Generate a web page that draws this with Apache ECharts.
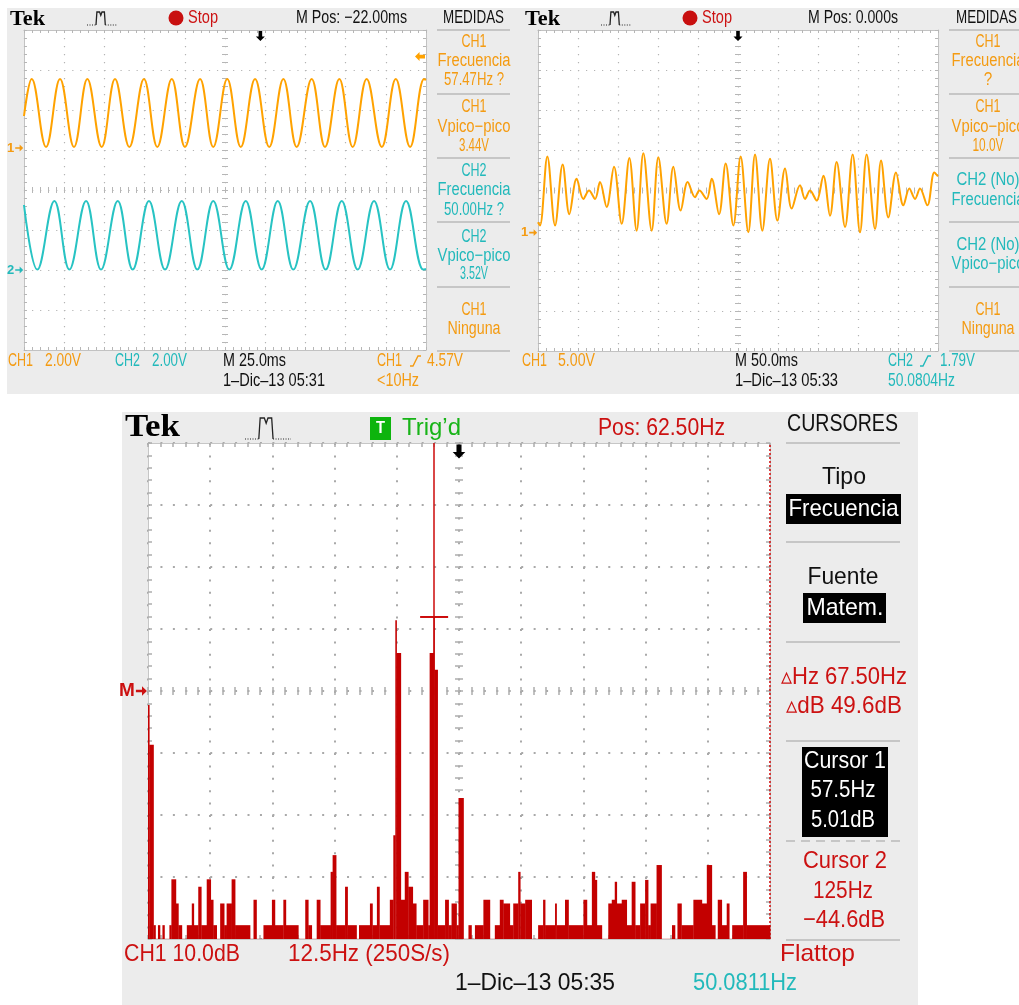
<!DOCTYPE html>
<html>
<head>
<meta charset="utf-8">
<script src="https://cdn.jsdelivr.net/npm/echarts@6/dist/echarts.min.js"></script>
<style>
  html, body { margin: 0; padding: 0; background: #ffffff; }
  #chart { width: 1019px; height: 1005px; }
</style>
</head>
<body>
<div id="chart"></div>
<script>
// ---------------------------------------------------------------
// Screen A: CH1 / CH2 sine captures (25 ms/div), [time ms, volts]
// ---------------------------------------------------------------
const scopeA_ch1 = [
  [0, 1.6], [4.8, 3.45], [13.7, 0.05], [22.4, 3.45], [31.1, 0.05], [39.4, 3.45], [48.3, 0.05],
  [56.6, 3.45], [65.5, 0.05], [74.6, 3.45], [82.9, 0.05], [91.9, 3.45], [100.1, 0.05],
  [109.5, 3.45], [117.7, 0.05], [126.4, 3.45], [134.8, 0.05], [143.7, 3.45], [152.5, 0.05],
  [161.3, 3.45], [169.6, 0.05], [178.9, 3.45], [187.2, 0.05], [196.1, 3.45], [204.4, 0.05],
  [213.1, 3.45], [222.5, 0.05], [231.2, 3.45], [240.1, 0.05], [248.8, 3.45], [250, 3.4]
];
const scopeA_ch2 = [
  [0, 3.25], [8.3, 0.02], [18.9, 3.45], [28.2, 0.02], [38.6, 3.45], [47.9, 0.02], [58.3, 3.45],
  [67.6, 0.02], [77.7, 3.45], [87.7, 0.02], [98.1, 3.45], [107.8, 0.02], [117.7, 3.45],
  [127.7, 0.02], [137.9, 3.45], [147.8, 0.02], [157.8, 3.45], [167.5, 0.02], [177.9, 3.45],
  [187.6, 0.02], [197.6, 3.45], [207.5, 0.02], [217.7, 3.45], [227.6, 0.02], [237.6, 3.45],
  [248.3, 0.02], [250, 0.05]
];

// ---------------------------------------------------------------
// Screen B: CH1 beating signal (50 ms/div), [time ms, volts]
// ---------------------------------------------------------------
const scopeB_ch1 = [
  [0, 1.3], [2.5, 0.9], [11.7, 9.5], [21.3, 0.9], [30.8, 8.5], [39.2, 2.3], [48.3, 6.7],
  [56.7, 4.2], [63.8, 5.25], [71.3, 4.2], [77.5, 6.3], [85.8, 3.2], [95, 8.2], [104.6, 1.1],
  [114.2, 9.3], [123.3, 0.25], [131.7, 9.9], [142.1, 0.25], [150.4, 9.4], [160.8, 1.1],
  [169.2, 8.2], [178.3, 2.75], [187.1, 6.3], [196.3, 4.4], [201.7, 5.25], [210.8, 4.2],
  [217.1, 6.7], [226.3, 2.3], [234.6, 8.6], [244.2, 0.9], [253.3, 9.5], [262.9, 0.05],
  [271.3, 9.75], [280.4, 0.25], [290, 9.2], [299.2, 1.5], [308.8, 8.0], [317.1, 3.0],
  [327.5, 5.9], [333.8, 4.2], [340, 5.25], [348.3, 4.0], [356.7, 7.1], [365, 2.1],
  [373.3, 8.8], [383.8, 0.7], [393.3, 9.75], [402.5, 0.05], [410.8, 9.75], [421.3, 0.45],
  [428.8, 9.0], [437.9, 1.9], [447.5, 7.5], [456.7, 3.4], [464.2, 5.5], [471.3, 4.2],
  [477.5, 5.5], [486.7, 3.4], [495.4, 7.5], [500, 7.0]
];

// ---------------------------------------------------------------
// Screen C: FFT of CH1 (Flattop, 12.5 Hz/div, 10 dB/div), [Hz, dB]
// each level holds until the next frequency
// ---------------------------------------------------------------
const fftSpectrum = [
  [0, -9.2], [0.25, -15.6], [1.1, -44.7], [1.5, -46.9], [2.0, -44.7], [2.4, -46.9], [2.9, -44.7],
  [3.3, -46.9], [4.3, -44.7], [4.7, -37.3], [5.6, -41.2], [6.1, -44.7], [6.8, -46.9], [7.8, -44.7],
  [8.8, -41.2], [9.2, -44.7], [10.1, -38.5], [10.7, -44.7], [11.8, -37.3], [12.6, -40.6],
  [13.1, -44.7], [13.8, -46.9], [14.5, -41.2], [15.3, -44.7], [15.8, -41.2], [16.8, -37.3],
  [17.5, -44.7], [20.5, -46.9], [21.2, -40.6], [21.8, -46.9], [23.2, -44.7], [24.9, -40.6],
  [25.5, -44.7], [27.2, -40.6], [27.7, -44.7], [30.2, -46.9], [31.6, -40.6], [32.2, -44.7],
  [32.9, -46.9], [33.9, -40.6], [34.6, -44.7], [36.7, -36.1], [37.1, -33.4], [37.8, -44.7],
  [39.6, -38.5], [40.1, -44.7], [41.9, -46.9], [42.4, -44.7], [44.6, -41.2], [45.1, -44.7],
  [46.0, -38.5], [46.5, -44.7], [48.6, -40.6], [49.3, -30.2], [49.7, 4.5], [49.95, -0.8],
  [50.8, -40.6], [51.6, -36.1], [52.3, -38.5], [53.2, -41.2], [53.9, -44.7], [55.3, -40.6],
  [56.3, -44.7], [56.6, -0.8], [57.4, 5.01], [57.55, -3.5], [58.2, -44.7], [59.7, -40.6],
  [60.4, -44.7], [61.0, -41.2], [62.0, -44.7], [62.4, -24.2], [63.4, -46.9], [64.4, -44.7],
  [65.0, -46.9], [65.7, -44.7], [67.4, -40.6], [68.7, -46.9], [69.7, -44.7], [70.7, -40.6],
  [71.4, -41.2], [72.7, -44.7], [73.4, -41.2], [74.4, -36.1], [74.8, -41.2], [75.8, -40.6],
  [77.1, -46.9], [78.4, -44.7], [79.4, -40.6], [79.8, -44.7], [81.8, -41.2], [82.1, -44.7],
  [83.8, -40.6], [84.5, -44.7], [87.5, -40.6], [88.2, -44.7], [89.2, -36.1], [89.8, -37.4],
  [90.2, -44.7], [91.2, -46.9], [92.5, -41.2], [93.2, -40.6], [93.8, -37.7], [94.2, -41.2],
  [95.2, -40.6], [96.2, -44.7], [97.2, -37.7], [97.9, -44.7], [98.9, -41.2], [99.9, -37.4],
  [100.5, -44.7], [101.0, -41.2], [102.2, -35.0], [103.2, -46.9], [105.3, -44.7], [105.9, -46.9],
  [106.4, -41.2], [107.2, -44.7], [109.6, -40.6], [111.3, -41.2], [112.3, -35.0], [113.3, -44.7],
  [114.0, -46.9], [114.5, -40.6], [115.3, -44.7], [116.3, -41.2], [116.8, -46.9], [117.4, -44.7],
  [119.6, -36.1], [120.3, -44.7], [125, -44.7]
];

// Cursor readouts of screen C
const cursor1 = { hz: 57.5, db: 5.01 };
const cursor2 = { hz: 125, db: -44.6 };

// Trigger settings
const trigA = { posMs: 147, levelV: 4.57 };   // 22 ms right of centre
const trigB = { posMs: 250 };
const fftCentreHz = 62.5;

// Vertical ranges (volts / dB) of the three screens
const rangeA1 = [-10.1, 5.9], rangeA2 = [-4, 12], rangeB1 = [-14.75, 25.25], rangeC = [-46.93, 33.07];

// ---------------------------------------------------------------
const SANS = "'Liberation Sans', Arial, Helvetica, sans-serif";
const SERIF = "'Liberation Serif', 'Times New Roman', serif";
const ORANGE = '#ffa200', ORANGE_TXT = '#f49b12';
const CYAN = '#27c3c3', CYAN_TXT = '#22b9bb';
const RED = '#c30000', RED_TXT = '#cc1111';
const GREEN = '#18b418';
const PANEL = '#ececec', SEP = '#c6c6c6';

const gridA = { left: 24, top: 30, width: 402, height: 320 };
const gridB = { left: 538, top: 30, width: 400, height: 321 };
const gridC = { left: 148, top: 443, width: 622, height: 496 };

const xAxes = [], yAxes = [];

// graticule: border with fine ticks, dotted division lines, ticked centre cross
function graticule(gi, g, st) {
  const dotY = g.height / 8 / 5, dotX = g.width / 10 / 5;
  const tick = { color: st.tick, width: st.tickW };
  const common = { type: 'value', gridIndex: gi, silent: true, axisLabel: { show: false }, splitLine: { show: false } };
  const border = (pos, extra) => Object.assign({}, common, {
    position: pos,
    axisLine: { show: true, onZero: false, lineStyle: { color: st.border, width: 1 } },
    axisTick: { show: true, inside: true, length: st.tickLen, lineStyle: tick },
    minorTick: { show: true, splitNumber: 5, length: st.tickLen, lineStyle: tick }
  }, extra);
  const centre = (pos, offset, extra) => Object.assign({}, common, {
    position: pos, offset: offset,
    axisLine: { show: false, onZero: false },
    axisTick: { show: true, inside: false, length: st.tickLen * 2, lineStyle: tick },
    minorTick: { show: true, splitNumber: 5, length: st.tickLen * 2, lineStyle: tick }
  }, extra);
  const xr = { min: 0, max: 10, interval: 1 }, yr = { min: 0, max: 8, interval: 1 };
  xAxes.push(border('bottom', Object.assign({}, xr, {
    splitLine: { show: true, lineStyle: { color: st.dot, width: st.dotW, type: [st.dotW, dotY - st.dotW] } } })));
  xAxes.push(border('top', xr));
  xAxes.push(centre('bottom', -(g.height / 2 + st.tickLen), xr));
  yAxes.push(border('left', Object.assign({}, yr, {
    splitLine: { show: true, lineStyle: { color: st.dot, width: st.dotW, type: [st.dotW, dotX - st.dotW] } } })));
  yAxes.push(border('right', yr));
  yAxes.push(centre('left', -(g.width / 2 + st.tickLen), yr));
}
function dataAxis(list, gi, range) {
  list.push({ type: 'value', gridIndex: gi, show: false, min: range[0], max: range[1] });
  return list.length - 1;
}

const smallSt = { border: '#c2c2c2', tick: '#b6b6b6', tickW: 1, tickLen: 3, dot: '#b4b4b4', dotW: 1.2 };
const bigSt = { border: '#c6c6c6', tick: '#adadad', tickW: 1.5, tickLen: 4, dot: '#a9a9a9', dotW: 2 };

graticule(0, gridA, smallSt);
const xA = dataAxis(xAxes, 0, [0, 250]);
const yA1 = dataAxis(yAxes, 0, rangeA1);
const yA2 = dataAxis(yAxes, 0, rangeA2);
graticule(1, gridB, smallSt);
const xB = dataAxis(xAxes, 1, [0, 500]);
const yB1 = dataAxis(yAxes, 1, rangeB1);
graticule(2, gridC, bigSt);
const xC = dataAxis(xAxes, 2, [0, 125]);
const yC = dataAxis(yAxes, 2, rangeC);

// spectrum blocks: [start Hz, dB, end Hz]
const fftBlocks = fftSpectrum.slice(0, -1).map((p, i) => [p[0], p[1], fftSpectrum[i + 1][0]]);

// ---------------------------------------------------------------
// markers
const ARROW_R = 'path://M0,4 L5,4 L5,1 L9,5 L5,9 L5,6 L0,6 Z';
const ARROW_L = 'path://M0,5 L5,0 L5,3 L11,3 L11,7 L5,7 L5,10 Z';
const ARROW_D = 'path://M3,0 L7,0 L7,6 L10,6 L5,11 L0,6 L3,6 Z';
function refMarker(x, y, text, color, size, fs) {
  return {
    coord: [x, y], symbol: ARROW_R, symbolSize: [size, size * 0.85], symbolOffset: [-size * 0.6, 0],
    itemStyle: { color: color },
    label: { show: true, position: 'left', distance: 1, formatter: text, color: color,
             fontSize: fs, fontFamily: SANS, fontWeight: 'bold' }
  };
}
function trigArrow(x, y, size) {
  return { coord: [x, y], symbol: ARROW_D, symbolSize: [size * 0.9, size], symbolOffset: [0, size * 0.6],
           itemStyle: { color: '#000' }, label: { show: false } };
}

const series = [
  {
    type: 'line', xAxisIndex: xA, yAxisIndex: yA1, data: scopeA_ch1, smooth: 0.4, symbol: 'none',
    clip: false, z: 5, lineStyle: { color: ORANGE, width: 2 },
    markPoint: { silent: true, animation: false, label: { show: false }, data: [
      refMarker(0, 0, '1', ORANGE_TXT, 8, 13),
      trigArrow(trigA.posMs, rangeA1[1], 10),
      { coord: [250, trigA.levelV], symbol: ARROW_L, symbolSize: [10, 9], symbolOffset: [-6, 0],
        itemStyle: { color: ORANGE }, label: { show: false } }
    ] }
  },
  {
    type: 'line', xAxisIndex: xA, yAxisIndex: yA2, data: scopeA_ch2, smooth: 0.4, symbol: 'none',
    clip: false, z: 5, lineStyle: { color: CYAN, width: 2 },
    markPoint: { silent: true, animation: false, label: { show: false }, data: [
      refMarker(0, 0, '2', CYAN_TXT, 8, 13)
    ] }
  },
  {
    type: 'line', xAxisIndex: xB, yAxisIndex: yB1, data: scopeB_ch1, smooth: 0.35, symbol: 'none',
    clip: false, z: 5, lineStyle: { color: ORANGE, width: 2 },
    markPoint: { silent: true, animation: false, label: { show: false }, data: [
      refMarker(0, 0, '1', ORANGE_TXT, 8, 13),
      trigArrow(trigB.posMs, rangeB1[1], 10)
    ] }
  },
  {
    // FFT magnitude, drawn as filled blocks from the floor
    type: 'custom', xAxisIndex: xC, yAxisIndex: yC, data: fftBlocks, z: 5, silent: true,
    encode: { x: [0, 2], y: 1 },
    renderItem: function (params, api) {
      const top = api.coord([api.value(0), api.value(1)]);
      const end = api.coord([api.value(2), rangeC[0]]);
      return { type: 'rect',
        shape: { x: top[0], y: top[1], width: Math.max(end[0] - top[0], 0.6) + 0.35, height: end[1] - top[1] },
        style: { fill: RED } };
    }
  },
  {
    // cursor readout points; carries the cursor lines and markers
    type: 'line', xAxisIndex: xC, yAxisIndex: yC, z: 6, symbol: 'none', clip: false,
    data: [[cursor1.hz, cursor1.db], [cursor2.hz, cursor2.db]],
    lineStyle: { opacity: 0 },
    markLine: { silent: true, animation: false, symbol: ['none', 'none'], label: { show: false }, data: [
      { xAxis: cursor1.hz, lineStyle: { color: '#cc0a0a', width: 1.5, type: 'solid' } },
      { xAxis: cursor2.hz, lineStyle: { color: '#d41414', width: 1.6, type: [2, 2] } }
    ] },
    markPoint: { silent: true, animation: false, label: { show: false }, data: [
      { coord: [cursor1.hz, cursor1.db], symbol: 'rect', symbolSize: [28, 2], itemStyle: { color: '#cc0a0a' } },
      trigArrow(fftCentreHz, rangeC[1], 14),
      refMarker(0, (rangeC[0] + rangeC[1]) / 2, 'M', RED_TXT, 11, 19)
    ] }
  }
];

// ---------------------------------------------------------------
// screen annotations
const measureCtx = document.createElement('canvas').getContext('2d');
function T(x, y, text, o) {
  o = o || {};
  const font = (o.weight || 'normal') + ' ' + (o.size || 18) + 'px ' + (o.family || SANS);
  measureCtx.font = font;
  const w0 = measureCtx.measureText(text).width || 1;
  const sx = o.w ? o.w / w0 : (o.sx || 0.85);
  const align = o.align || 'left';
  return { type: 'text', x: x, y: y, scaleX: sx, z: 100, silent: true,
    style: { text: text, fill: o.color || '#111', font: font,
             textAlign: align, align: align, textVerticalAlign: 'middle', verticalAlign: 'middle' } };
}
function rect(x, y, w, h, fill, z) {
  return { type: 'rect', shape: { x: x, y: y, width: w, height: h }, style: { fill: fill }, z: z == null ? 90 : z, silent: true };
}
function hline(x1, x2, y, color, width, dash) {
  return { type: 'line', shape: { x1: x1, y1: y, x2: x2, y2: y }, z: 95, silent: true,
           style: { stroke: color, lineWidth: width, lineDash: dash || null } };
}
function poly(points, color, width, dash) {
  return { type: 'polyline', shape: { points: points }, z: 95, silent: true,
           style: { stroke: color, fill: null, lineWidth: width, lineDash: dash || null } };
}
function pulseIcon(x, y, w, h) {
  const b = y + h;
  return [
    poly([[x, b], [x + 0.3 * w, b]], '#222', 1, [1, 1.5]),
    poly([[x + 0.3 * w, b], [x + 0.33 * w, y], [x + 0.42 * w, y], [x + 0.46 * w, y + 0.25 * h],
          [x + 0.5 * w, y], [x + 0.58 * w, y], [x + 0.61 * w, b]], '#222', 1.3),
    poly([[x + 0.61 * w, b], [x + w, b]], '#222', 1, [1, 1.5])
  ];
}
function slope(x, y, color) {
  return poly([[x, y + 5], [x + 3, y + 5], [x + 8, y - 5], [x + 11, y - 5]], color, 1.4);
}

const g = [];
// panels
g.push(rect(7, 8, 510, 386, PANEL, -100));
g.push(rect(517, 8, 502, 386, PANEL, -100));
g.push(rect(122, 412, 796, 593, PANEL, -100));

// ---- screen A header / readouts
g.push(T(10, 19, 'Tek', { family: SERIF, weight: 'bold', size: 22, w: 35, color: '#000' }));
g.push(...pulseIcon(87, 12, 30, 13));
g.push({ type: 'circle', shape: { cx: 176, cy: 18, r: 7.5 }, style: { fill: '#c80f0f' }, z: 95, silent: true });
g.push(T(188, 18, 'Stop', { color: RED_TXT, w: 30 }));
g.push(T(296, 18, 'M Pos: −22.00ms', { w: 111 }));
g.push(T(443, 18, 'MEDIDAS', { w: 61 }));
[30, 94, 158, 222, 287, 351].forEach(y => g.push(hline(437, 510, y, SEP, 2)));
[
  ['CH1', 42, ORANGE_TXT, 25], ['Frecuencia', 61, ORANGE_TXT, 73], ['57.47Hz ?', 80, ORANGE_TXT, 60],
  ['CH1', 107, ORANGE_TXT, 25], ['Vpico−pico', 127, ORANGE_TXT, 73], ['3.44V', 146, ORANGE_TXT, 30],
  ['CH2', 171, CYAN_TXT, 25], ['Frecuencia', 190, CYAN_TXT, 73], ['50.00Hz ?', 210, CYAN_TXT, 60],
  ['CH2', 237, CYAN_TXT, 25], ['Vpico−pico', 256, CYAN_TXT, 73], ['3.52V', 274, CYAN_TXT, 28],
  ['CH1', 310, ORANGE_TXT, 25], ['Ninguna', 329, ORANGE_TXT, 53]
].forEach(r => g.push(T(474, r[1], r[0], { color: r[2], w: r[3], align: 'center' })));
g.push(T(8, 361, 'CH1', { color: ORANGE_TXT, w: 25 }));
g.push(T(45, 361, '2.00V', { color: ORANGE_TXT, w: 36 }));
g.push(T(115, 361, 'CH2', { color: CYAN_TXT, w: 25 }));
g.push(T(152, 361, '2.00V', { color: CYAN_TXT, w: 35 }));
g.push(T(223, 361, 'M 25.0ms', { w: 63 }));
g.push(T(223, 381, '1–Dic–13 05:31', { w: 102 }));
g.push(T(377, 361, 'CH1', { color: ORANGE_TXT, w: 25 }));
g.push(slope(410, 361, ORANGE_TXT));
g.push(T(427, 361, '4.57V', { color: ORANGE_TXT, w: 36 }));
g.push(T(377, 381, '<10Hz', { color: ORANGE_TXT, w: 42 }));

// ---- screen B header / readouts
g.push(T(525, 19, 'Tek', { family: SERIF, weight: 'bold', size: 22, w: 35, color: '#000' }));
g.push(...pulseIcon(601, 12, 30, 13));
g.push({ type: 'circle', shape: { cx: 690, cy: 18, r: 7.5 }, style: { fill: '#c80f0f' }, z: 95, silent: true });
g.push(T(702, 18, 'Stop', { color: RED_TXT, w: 30 }));
g.push(T(808, 18, 'M Pos: 0.000s', { w: 90 }));
g.push(T(956, 18, 'MEDIDAS', { w: 61 }));
[30, 94, 158, 222, 287, 351].forEach(y => g.push(hline(949, 1019, y, SEP, 2)));
[
  ['CH1', 42, ORANGE_TXT, 25], ['Frecuencia', 61, ORANGE_TXT, 73], ['?', 80, ORANGE_TXT, 0],
  ['CH1', 107, ORANGE_TXT, 25], ['Vpico−pico', 127, ORANGE_TXT, 73], ['10.0V', 146, ORANGE_TXT, 31],
  ['CH2 (No)', 180, CYAN_TXT, 63], ['Frecuencia', 200, CYAN_TXT, 73],
  ['CH2 (No)', 245, CYAN_TXT, 63], ['Vpico−pico', 264, CYAN_TXT, 73],
  ['CH1', 310, ORANGE_TXT, 25], ['Ninguna', 329, ORANGE_TXT, 53]
].forEach(r => g.push(T(988, r[1], r[0], { color: r[2], w: r[3] || null, align: 'center' })));
g.push(T(522, 361, 'CH1', { color: ORANGE_TXT, w: 25 }));
g.push(T(558, 361, '5.00V', { color: ORANGE_TXT, w: 37 }));
g.push(T(735, 361, 'M 50.0ms', { w: 63 }));
g.push(T(735, 381, '1–Dic–13 05:33', { w: 103 }));
g.push(T(888, 361, 'CH2', { color: CYAN_TXT, w: 25 }));
g.push(slope(920, 361, CYAN_TXT));
g.push(T(940, 361, '1.79V', { color: CYAN_TXT, w: 35 }));
g.push(T(888, 381, '50.0804Hz', { color: CYAN_TXT, w: 67 }));

// ---- screen C header / cursor menu
g.push(T(125, 428, 'Tek', { family: SERIF, weight: 'bold', size: 32, w: 55, color: '#000' }));
g.push(...pulseIcon(245, 418, 46, 21));
g.push(rect(370, 417, 21, 23, '#0db40d', 95));
g.push(T(380.5, 429, 'T', { color: '#ffffff', size: 16, weight: 'bold', w: 9, align: 'center' }));
g.push(T(402, 428, 'Trig’d', { color: GREEN, size: 24, w: 59 }));
g.push(T(598, 428, 'Pos: ' + fftCentreHz.toFixed(2) + 'Hz', { color: RED_TXT, size: 24, w: 127 }));
g.push(T(787, 424, 'CURSORES', { size: 24, w: 111 }));
[443, 542, 642, 741, 940].forEach(y => g.push(hline(786, 900, y, SEP, 2)));
g.push(hline(786, 900, 841, SEP, 2, [9, 6]));
g.push(T(844, 477, 'Tipo', { size: 24, w: 44, align: 'center' }));
g.push(rect(786, 494, 115, 30, '#000'));
g.push(T(843.5, 509, 'Frecuencia', { size: 24, w: 110, color: '#fff', align: 'center' }));
g.push(T(843, 577, 'Fuente', { size: 24, w: 71, align: 'center' }));
g.push(rect(803, 593, 83, 30, '#000'));
g.push(T(845, 608, 'Matem.', { size: 24, w: 77, color: '#fff', align: 'center' }));
g.push(T(844, 677, '▵Hz ' + (cursor2.hz - cursor1.hz).toFixed(2) + 'Hz', { size: 24, w: 126, color: RED_TXT, align: 'center' }));
g.push(T(844, 706, '▵dB ' + (cursor1.db - cursor2.db).toFixed(1) + 'dB', { size: 24, w: 116, color: RED_TXT, align: 'center' }));
g.push(rect(802, 747, 86, 90, '#000'));
g.push(T(845, 761, 'Cursor 1', { size: 24, w: 82, color: '#fff', align: 'center' }));
g.push(T(843, 790, cursor1.hz + 'Hz', { size: 24, w: 65, color: '#fff', align: 'center' }));
g.push(T(843, 820, cursor1.db.toFixed(2) + 'dB', { size: 24, w: 64, color: '#fff', align: 'center' }));
g.push(T(845, 861, 'Cursor 2', { size: 24, w: 84, color: RED_TXT, align: 'center' }));
g.push(T(843, 891, cursor2.hz + 'Hz', { size: 24, w: 60, color: RED_TXT, align: 'center' }));
g.push(T(844, 920, '−' + Math.abs(cursor2.db).toFixed(1) + 'dB', { size: 24, w: 82, color: RED_TXT, align: 'center' }));
g.push(T(780, 954, 'Flattop', { size: 24, w: 75, color: RED_TXT }));
g.push(T(124, 954, 'CH1 10.0dB', { size: 24, w: 116, color: RED_TXT }));
g.push(T(288, 954, '12.5Hz (250S/s)', { size: 24, w: 162, color: RED_TXT }));
g.push(T(455, 983, '1–Dic–13 05:35', { size: 24, w: 160 }));
g.push(T(693, 983, '50.0811Hz', { size: 24, w: 104, color: CYAN_TXT }));

// ---------------------------------------------------------------
const chart = echarts.init(document.getElementById('chart'), null, { renderer: 'canvas', width: 1019, height: 1005 });
chart.setOption({
  animation: false,
  backgroundColor: '#ffffff',
  grid: [gridA, gridB, gridC].map(r => Object.assign({ show: true, backgroundColor: '#ffffff', borderWidth: 0, containLabel: false }, r)),
  xAxis: xAxes,
  yAxis: yAxes,
  series: series,
  graphic: { elements: g }
});
</script>
</body>
</html>
